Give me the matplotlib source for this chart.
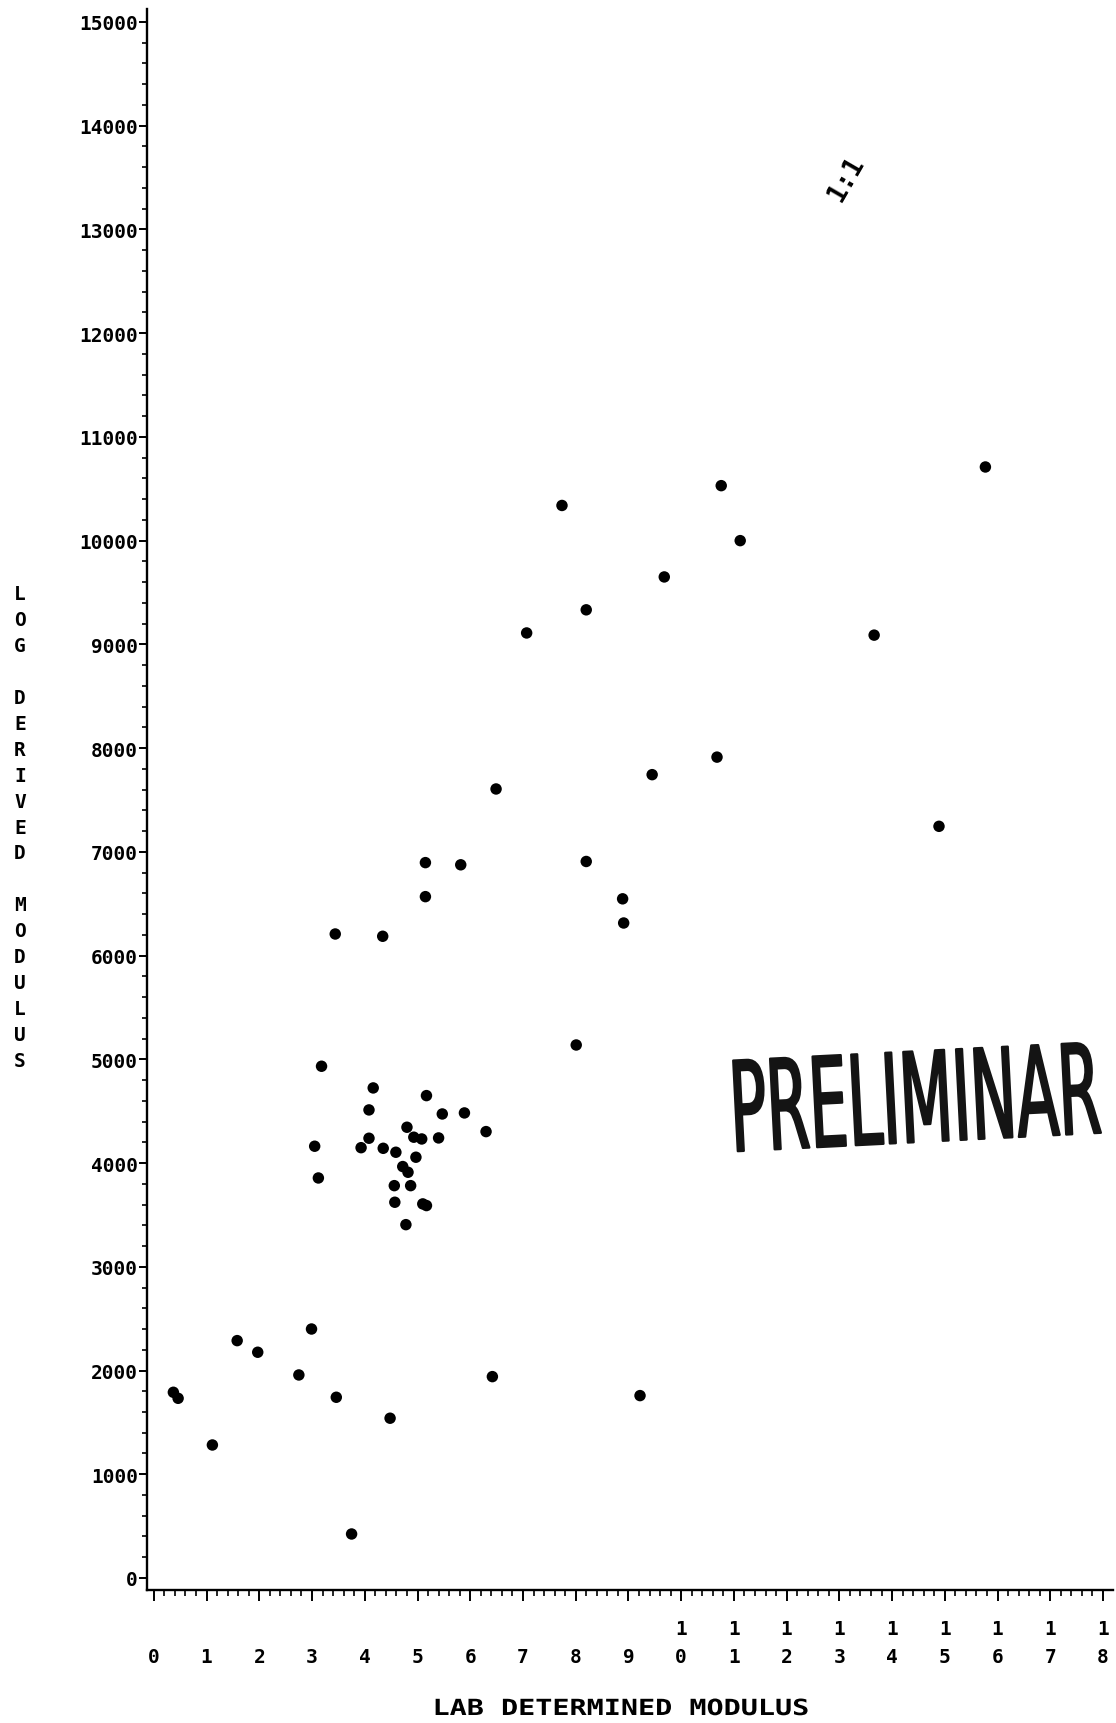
import matplotlib
matplotlib.use("Agg")
import matplotlib.pyplot as plt
from matplotlib.patheffects import AbstractPathEffect
from matplotlib.transforms import Affine2D
from matplotlib.ticker import MultipleLocator

# Lab determined modulus (x, in thousands) vs. log derived modulus (y)
lab_modulus = [
    0.37, 0.46, 1.11, 1.58, 1.97, 2.75, 2.99, 3.46, 3.75, 4.48, 6.42,
    3.18, 4.16, 5.17, 4.08, 5.47, 5.89, 6.30, 4.80, 4.93, 5.08, 5.40,
    4.08, 3.93, 3.05, 4.35, 4.59, 4.97, 4.72, 4.82, 3.12, 4.56, 4.87,
    4.57, 5.10, 5.17, 4.78,
    3.44, 4.34, 5.15, 5.15, 5.82, 6.49, 7.07, 7.74, 8.01, 8.20, 8.20,
    8.89, 8.91, 9.22, 9.45, 9.68, 10.68, 10.76, 11.12, 13.66, 14.89, 15.77,
]
log_modulus = [
    1790, 1732, 1282, 2288, 2176, 1957, 2400, 1742, 424, 1540, 1941,
    4933, 4724, 4650, 4512, 4473, 4483, 4303, 4345, 4249, 4232, 4242,
    4239, 4148, 4162, 4142, 4104, 4056, 3966, 3911, 3856, 3782, 3782,
    3622, 3606, 3590, 3406,
    6208, 6186, 6896, 6568, 6875, 7606, 9110, 10339, 5138, 9333, 6907,
    6547, 6314, 1758, 7744, 9650, 7913, 10530, 10000, 9089, 7246, 10710,
]

x_ticks = list(range(0, 19))
x_tick_labels = [str(v) for v in x_ticks]
y_ticks = list(range(0, 15001, 1000))
y_tick_labels = [str(v) for v in y_ticks]

x_title = "LAB DETERMINED MODULUS"
y_title = "LOG DERIVED MODULUS"
line_note = "1:1"
stamp_text = "PRELIMINAR"


class Reshape(AbstractPathEffect):
    """Scale a text path about its lower-left (or lower-centre) corner,
    tilt it by a small angle, and optionally thicken its strokes."""

    def __init__(self, sx=1.0, sy=1.0, angle=0.0, anchor="left",
                 outline=0.0):
        super().__init__()
        self.sx, self.sy, self.angle, self.anchor = sx, sy, angle, anchor
        self.outline = outline

    def draw_path(self, renderer, gc, tpath, affine, rgbFace=None):
        ext = tpath.get_extents(affine)
        x0 = ext.x0 if self.anchor == "left" else 0.5 * (ext.x0 + ext.x1)
        y0 = ext.y0
        shape = (Affine2D().translate(-x0, -y0).scale(self.sx, self.sy)
                 .rotate_deg(self.angle).translate(x0, y0))
        gc0 = renderer.new_gc()
        gc0.copy_properties(gc)
        if self.outline > 0 and rgbFace is not None:
            gc0.set_linewidth(self.outline)
            gc0.set_foreground(rgbFace)
        renderer.draw_path(gc0, tpath, affine + shape, rgbFace)
        gc0.restore()


plt.rcParams["font.family"] = ["DejaVu Sans Mono", "DejaVu Sans"]
plt.rcParams["font.weight"] = "bold"

fig = plt.figure(figsize=(11.16, 17.24), dpi=100)
fig.patch.set_facecolor("white")
ax = fig.add_axes([147 / 1116, 1 - 1591 / 1724, 966 / 1116, 1581 / 1724])

ax.scatter(lab_modulus, log_modulus, s=68, c="black", edgecolors="none",
           zorder=3)

ax.set_xlim(-0.13, 18.19)
ax.set_ylim(-116, 15125)

for side in ("top", "right"):
    ax.spines[side].set_visible(False)
for side in ("left", "bottom"):
    ax.spines[side].set_linewidth(1.7)
    ax.spines[side].set_color("black")

ax.set_xticks(x_ticks)
ax.set_xticklabels(["\n".join(s.rjust(2)) for s in x_tick_labels],
                   linespacing=1.6, va="top")
ax.xaxis.set_minor_locator(MultipleLocator(0.2))
ax.set_yticks(y_ticks)
ax.set_yticklabels(y_tick_labels)
ax.yaxis.set_minor_locator(MultipleLocator(200))

ax.tick_params(axis="x", which="major", direction="out", length=8,
               width=1.4, pad=13, labelsize=14, colors="black")
ax.tick_params(axis="x", which="minor", direction="out", length=4,
               width=1.2, colors="black")
ax.tick_params(axis="y", which="major", direction="out", length=6,
               width=1.4, pad=0.5, labelsize=14, colors="black")
ax.tick_params(axis="y", which="minor", direction="out", length=3.5,
               width=1.2, colors="black")

fig.text(621 / 1116, 1 - 1710 / 1724, x_title, ha="center", va="center",
         fontsize=16, color="black",
         path_effects=[Reshape(sx=1.28, anchor="center")])
fig.text(20 / 1116, 1 - 828 / 1724, "\n".join(y_title), ha="center",
         va="center", fontsize=14, linespacing=1.46, color="black")

ax.text(13.13, 13497, line_note, rotation=60, ha="center", va="center",
        fontsize=19, color="black")

ax.text(10.96, 4114, stamp_text, fontsize=49, family=["DejaVu Sans"],
        fontstretch="condensed", fontweight="normal",
        ha="left", va="baseline", color="#141414",
        path_effects=[Reshape(sy=1.83, angle=2.9, anchor="left",
                              outline=1.6)],
        zorder=2)

fig.savefig("out.png", dpi=100, facecolor="white")
